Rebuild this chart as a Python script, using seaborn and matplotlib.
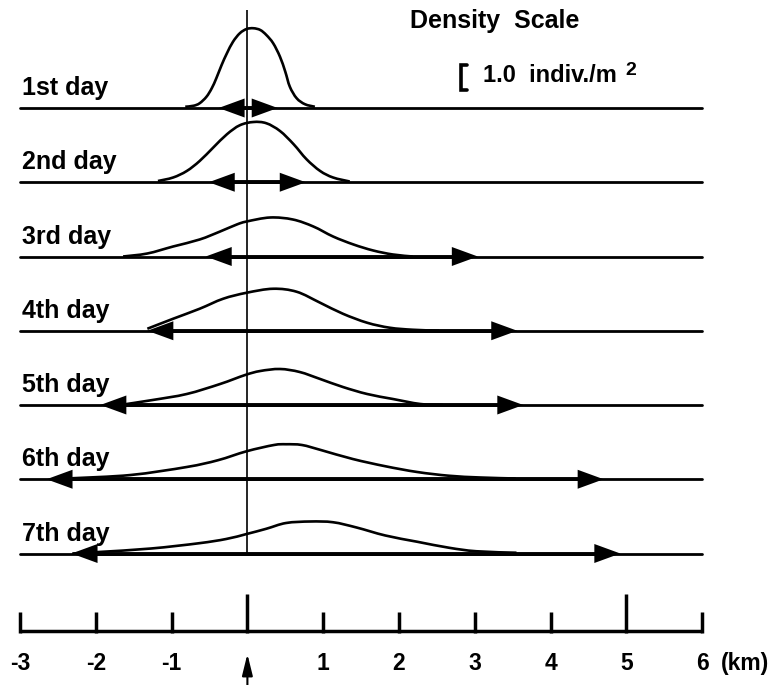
import matplotlib
matplotlib.use("Agg")
import matplotlib.pyplot as plt
from matplotlib.path import Path
from matplotlib.patches import PathPatch
import numpy as np
import pandas as pd
import seaborn as sns

# ---------------------------------------------------------------- data
day_labels = ["1st day", "2nd day", "3rd day", "4th day",
              "5th day", "6th day", "7th day"]

# density profiles along the transect: distance (km) and density (indiv./m^2)
day1_km = [-0.82, -0.71, -0.63, -0.54, -0.47, -0.41, -0.34, -0.27, -0.19, -0.10,
           -0.01, 0.08, 0.17, 0.25, 0.34, 0.43, 0.50, 0.56, 0.65, 0.76, 0.89]
day1_density = [0.05, 0.09, 0.19, 0.45, 0.79, 1.19, 1.72, 2.19, 2.65, 2.99,
                3.16, 3.19, 3.12, 2.92, 2.59, 2.05, 1.45, 0.85, 0.39, 0.15, 0.05]

day2_km = [-1.18, -0.98, -0.80, -0.63, -0.45, -0.27, -0.10, 0.08, 0.25, 0.43,
           0.61, 0.78, 0.96, 1.13, 1.35]
day2_density = [0.05, 0.19, 0.45, 0.85, 1.39, 1.92, 2.28, 2.41, 2.36, 2.05,
                1.52, 0.92, 0.45, 0.19, 0.03]

day3_km = [-1.64, -1.32, -0.98, -0.63, -0.36, -0.14, -0.01, 0.30, 0.60, 0.87,
           1.13, 1.40, 1.66, 1.92, 2.18]
day3_density = [0.00, 0.12, 0.40, 0.68, 1.00, 1.28, 1.40, 1.56, 1.48, 1.20,
                0.80, 0.48, 0.24, 0.08, 0.00]

day4_km = [-1.32, -0.98, -0.63, -0.32, -0.01, 0.34, 0.65, 0.96, 1.26, 1.58,
           1.88, 2.18, 2.53]
day4_density = [0.08, 0.48, 0.88, 1.28, 1.52, 1.68, 1.56, 1.12, 0.68, 0.32,
                0.12, 0.04, 0.00]

day5_km = [-1.68, -1.25, -0.80, -0.36, -0.03, 0.17, 0.43, 0.69, 0.96, 1.26,
           1.58, 1.92, 2.28, 2.58]
day5_density = [0.00, 0.20, 0.44, 0.84, 1.20, 1.36, 1.44, 1.32, 1.04, 0.72,
                0.44, 0.24, 0.04, 0.00]

day6_km = [-2.31, -1.54, -0.80, -0.39, -0.01, 0.35, 0.51, 0.72, 0.98, 1.39,
           1.82, 2.24, 2.66, 3.07, 3.54]
day6_density = [0.04, 0.17, 0.49, 0.76, 1.12, 1.37, 1.40, 1.37, 1.16, 0.81,
                0.52, 0.29, 0.14, 0.07, 0.03]

day7_km = [-2.31, -1.96, -1.27, -0.64, -0.28, -0.01, 0.25, 0.51, 0.83, 1.13,
           1.44, 1.82, 2.24, 2.66, 3.02, 3.55]
day7_density = [0.00, 0.06, 0.20, 0.41, 0.58, 0.78, 0.99, 1.22, 1.28, 1.25,
                1.04, 0.72, 0.47, 0.23, 0.09, 0.03]

profiles_km = [day1_km, day2_km, day3_km, day4_km, day5_km, day6_km, day7_km]
profiles_density = [day1_density, day2_density, day3_density, day4_density,
                    day5_density, day6_density, day7_density]

# extent of the dispersal range (km) for each day
spread_left = [-0.38, -0.51, -0.55, -1.32, -1.94, -2.65, -2.32]
spread_right = [0.40, 0.77, 3.04, 3.56, 3.64, 4.70, 4.92]

# distance scale
scale_ticks = [-3, -2, -1, 0, 1, 2, 3, 4, 5, 6]
scale_tick_labels = ["-3", "-2", "-1", "", "1", "2", "3", "4", "5", "6"]
scale_major_ticks = [0, 5]
scale_unit = "(km)"

# density scale bar
density_ref = 1.0
density_title = "Density  Scale"
density_unit_text = "1.0  indiv./m"

# ---------------------------------------------------------------- layout
W, H, DPI = 773, 685, 100
X0_PX = 247.4          # release point (0 km) in pixels
PX_PER_KM = 75.8
PX_PER_DENS = 25.0     # vertical pixels per 1 indiv./m^2
ROW0_PX, ROW_STEP_PX = 108.0, 74.25
LINE_X0, LINE_X1 = -3.0, 6.0
HEAD_LEN_KM = 26 / PX_PER_KM
HEAD_HALF_PX = 9.5


def km_at(px):
    return (px - X0_PX) / PX_PER_KM


def y_at(px):
    return -px


def smooth_path(xs, ys):
    """Cubic Bezier path passing through every given point (Catmull-Rom)."""
    p = np.column_stack([xs, ys]).astype(float)
    ext = np.vstack([p[0], p, p[-1]])
    verts = [p[0]]
    codes = [Path.MOVETO]
    for k in range(len(p) - 1):
        p0, p1, p2, p3 = ext[k], ext[k + 1], ext[k + 2], ext[k + 3]
        verts += [p1 + (p2 - p0) / 6.0, p2 - (p3 - p1) / 6.0, p2]
        codes += [Path.CURVE4] * 3
    return Path(verts, codes)


sns.set_theme(style="white")
plt.rcParams["font.family"] = ["Liberation Sans", "DejaVu Sans"]
plt.rcParams["font.weight"] = "bold"

fig = plt.figure(figsize=(W / DPI, H / DPI), dpi=DPI)
fig.patch.set_facecolor("white")
ax = fig.add_axes([0, 0, 1, 1])
ax.set_xlim(km_at(0), km_at(W))
ax.set_ylim(-H, 0)
ax.axis("off")

ink = "#000000"

# release point axis
ax.plot([0, 0], [y_at(10), y_at(ROW0_PX + 6 * ROW_STEP_PX)],
        color=ink, lw=1.2, solid_capstyle="butt", zorder=2)

transects = pd.DataFrame({
    "km": np.tile([LINE_X0, LINE_X1], len(day_labels)),
    "y": np.repeat([y_at(ROW0_PX + i * ROW_STEP_PX) for i in range(len(day_labels))], 2),
    "day": np.repeat(day_labels, 2),
})
sns.lineplot(data=transects, x="km", y="y", units="day", estimator=None,
             color=ink, lw=2.0, ax=ax, zorder=2, legend=False)

for i, label in enumerate(day_labels):
    base = ROW0_PX + i * ROW_STEP_PX
    yb = y_at(base)

    # density profile
    ys = yb + np.asarray(profiles_density[i]) * PX_PER_DENS
    ax.add_patch(PathPatch(smooth_path(profiles_km[i], ys), facecolor="none",
                           edgecolor=ink, lw=1.9, zorder=3))

    # dispersal range: shaft plus two filled heads
    xl, xr = spread_left[i], spread_right[i]
    ax.plot([xl + HEAD_LEN_KM * 0.8, xr - HEAD_LEN_KM * 0.8], [yb, yb],
            color=ink, lw=2.8, solid_capstyle="butt", zorder=4)
    ax.fill([xl, xl + HEAD_LEN_KM, xl + HEAD_LEN_KM],
            [yb, yb + HEAD_HALF_PX, yb - HEAD_HALF_PX], color=ink, lw=0, zorder=4)
    ax.fill([xr, xr - HEAD_LEN_KM, xr - HEAD_LEN_KM],
            [yb, yb + HEAD_HALF_PX, yb - HEAD_HALF_PX], color=ink, lw=0, zorder=4)

    ax.text(km_at(22), y_at(base - 13), label, fontsize=18, color=ink,
            ha="left", va="baseline")

ax.set_xlabel("")
ax.set_ylabel("")

# density scale
ax.text(km_at(410), y_at(28), density_title, fontsize=18, color=ink,
        ha="left", va="baseline")
bx = km_at(461)
btop = y_at(65)
bbot = btop - density_ref * PX_PER_DENS
serif = 6 / PX_PER_KM
ax.plot([bx + serif, bx, bx, bx + serif], [btop, btop, bbot, bbot],
        color=ink, lw=2.6, solid_joinstyle="miter", zorder=3)
ax.text(km_at(483), y_at(82), density_unit_text, fontsize=17, color=ink,
        ha="left", va="baseline")
ax.text(km_at(625), y_at(75), "2", fontsize=14, color=ink,
        ha="left", va="baseline")

# distance scale bar
bar_y = y_at(631)
ax.plot([scale_ticks[0], scale_ticks[-1]], [bar_y, bar_y], color=ink, lw=2.5,
        solid_capstyle="butt", zorder=3)
for t, lab in zip(scale_ticks, scale_tick_labels):
    top = y_at(594) if t in scale_major_ticks else y_at(612)
    ax.plot([t, t], [bar_y - 1.5, top], color=ink, lw=2.5,
            solid_capstyle="butt", zorder=3)
    if lab:
        ax.text(t, y_at(670), lab, fontsize=16.5, color=ink,
                ha="center", va="baseline")
ax.text(scale_ticks[-1] + 19 / PX_PER_KM, y_at(670), scale_unit, fontsize=16.5,
        color=ink, ha="left", va="baseline")

# release point marker below the scale
ax.annotate("", xy=(0, y_at(654)), xytext=(0, y_at(720)),
            arrowprops=dict(arrowstyle="-|>,head_length=0.65,head_width=0.16",
                            mutation_scale=20, color=ink, lw=1.5,
                            shrinkA=0, shrinkB=0),
            annotation_clip=False, zorder=3)

fig.savefig("out.png", dpi=DPI, facecolor="white")
